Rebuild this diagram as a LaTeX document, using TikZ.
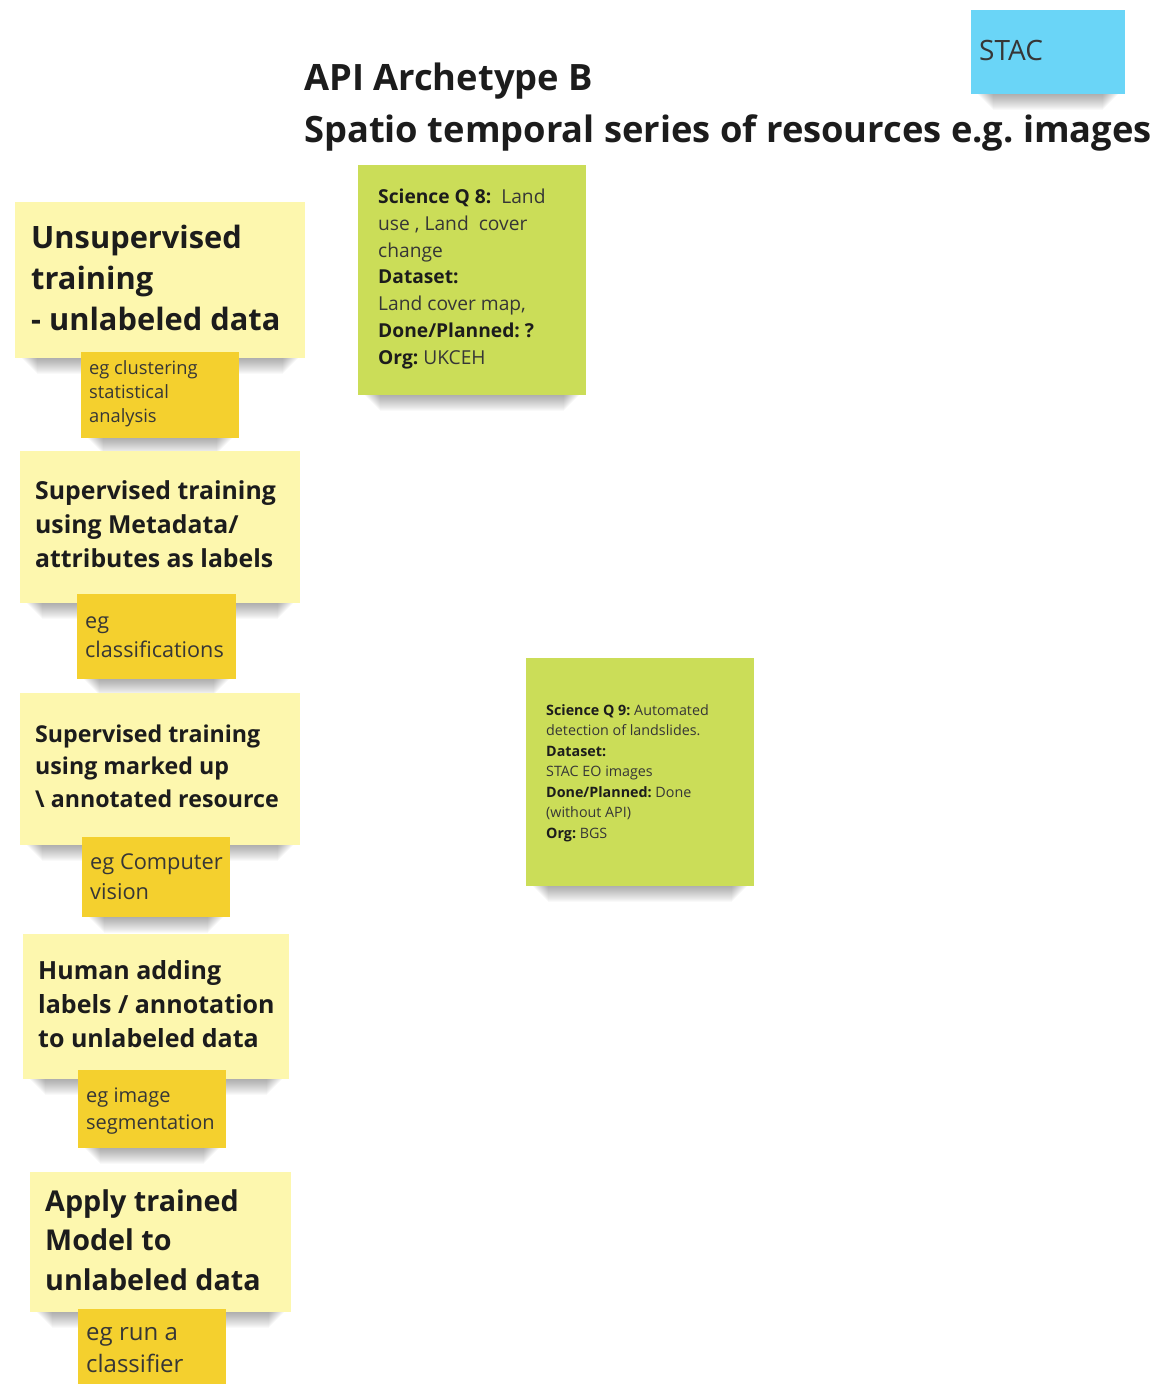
\documentclass[tikz,border=0pt]{standalone}
\usepackage{fontspec}
\setmainfont{Open Sans}
\usetikzlibrary{positioning}
\definecolor{notepale}{HTML}{FDF7AE}
\definecolor{noteyellow}{HTML}{F4D02E}
\definecolor{notegreen}{HTML}{CBDD58}
\definecolor{noteblue}{HTML}{6AD5F7}
\definecolor{inkdark}{HTML}{1C1C1C}
\definecolor{inkgrey}{HTML}{363636}
\tikzset{
  headtext/.style={inner sep=0pt, anchor=base west, text=inkdark, font=\bfseries\fontsize{36.3}{52}\selectfont},
  bigtext/.style 2 args={inner sep=0pt, anchor=west, align=left, text=inkdark, font=\bfseries\fontsize{#1}{#2}\selectfont},
  egtext/.style 2 args={inner sep=0pt, anchor=west, align=left, text=inkgrey, font=\fontsize{#1}{#2}\selectfont},
}
% sticky note with a soft shadow under its lower edge
\def\sticky[#1](#2,#3)(#4,#5){
  \foreach \s in {1,...,16}{\fill[black,opacity=0.022] (#2+6+\s,#5-10) rectangle (#4-6-\s,#5+\s);}
  \fill[#1] (#2,#3) rectangle (#4,#5);
}

\begin{document}
\frenchspacing
\begin{tikzpicture}[x=1pt,y=-1pt]
			%%%%% START %%%%%
			\useasboundingbox (0,0) rectangle (1157,1384);

			\node[headtext] (title) at (304,90) {API Archetype B};
			\node[headtext] (subtitle) at (304,142) {Spatio temporal series of resources e.g. images};

			\sticky[noteblue](971,10)(1125,94);
			\node[egtext={28}{34}] (stac) at (979,50) {STAC};

			% column of training notes
			\sticky[notepale](15,202)(305,358);
			\node[bigtext={30.8}{41}] (unsup) at (31,278) {Unsupervised\\training\\- unlabeled data};
			\sticky[noteyellow](81,352)(239,438);
			\node[egtext={18.3}{24}] (unsupeg) at (89,394) {eg clustering\\statistical\\analysis};

			\sticky[notepale](20,451)(300,603);
			\node[bigtext={24.8}{34}] (supmeta) at (35,524) {Supervised training\\using Metadata/\\attributes as labels};
			\sticky[noteyellow](77,594)(236,679);
			\node[egtext={21.6}{29}] (supmetaeg) at (85,637) {eg\\classifications};

			\sticky[notepale](20,693)(300,845);
			\node[bigtext={23.2}{32.5}] (supmark) at (35,766) {Supervised training\\using marked up\\\textbackslash\ annotated resource};
			\sticky[noteyellow](82,837)(230,917);
			\node[egtext={21.8}{30}] (supmarkeg) at (90,877) {eg Computer\\vision};

			\sticky[notepale](23,934)(289,1079);
			\node[bigtext={25}{34}] (human) at (38,1004) {Human adding\\labels / annotation\\to unlabeled data};
			\sticky[noteyellow](78,1070)(226,1148);
			\node[egtext={20}{27}] (humaneg) at (86,1111) {eg image\\segmentation};

			\sticky[notepale](30,1172)(291,1312);
			\node[bigtext={28.7}{39.5}] (apply) at (45,1240) {Apply trained\\Model to\\unlabeled data};
			\sticky[noteyellow](78,1309)(226,1400);
			\node[egtext={24}{32}] (applyeg) at (86,1350) {eg run a\\classifier};

			% science questions
			\sticky[notegreen](358,165)(586,395);
			\node[egtext={19.2}{26.7}] (sq8) at (378,279) {\textcolor{inkdark}{\bfseries Science Q 8:}\ \ Land\\use , Land\ \ cover\\change\\\textcolor{inkdark}{\bfseries Dataset:}\\Land cover map,\\\textcolor{inkdark}{\bfseries Done/Planned: ?}\\\textcolor{inkdark}{\bfseries Org:} UKCEH};

			\sticky[notegreen](526,658)(754,886);
			\node[egtext={14.3}{20.5}] (sq9) at (546,773) {\textcolor{inkdark}{\bfseries Science Q 9:} Automated\\detection of landslides.\\\textcolor{inkdark}{\bfseries Dataset:}\\STAC EO images\\\textcolor{inkdark}{\bfseries Done/Planned:} Done\\(without API)\\\textcolor{inkdark}{\bfseries Org:} BGS};
			%%%%% END %%%%%
\end{tikzpicture}
\end{document}
